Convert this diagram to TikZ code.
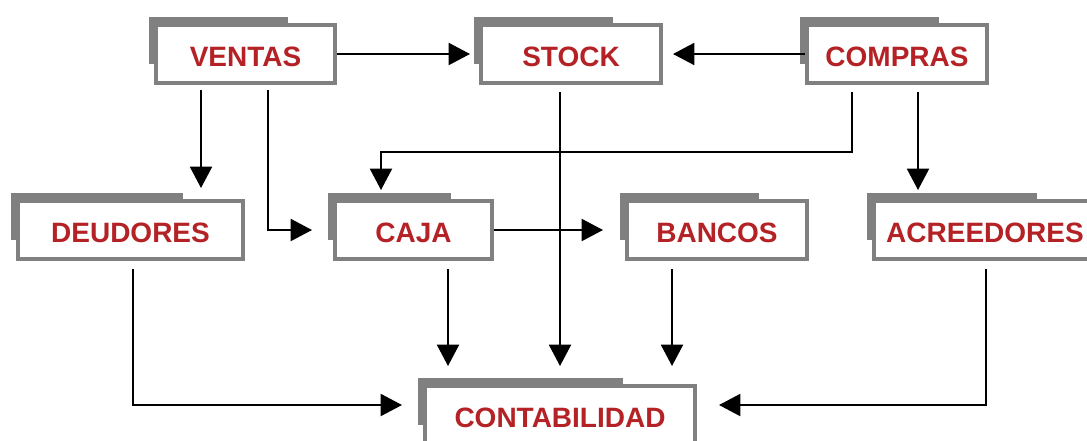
\documentclass[tikz,border=0pt]{standalone}
\usepackage{fontspec}
\setmainfont{Liberation Sans}
\usepackage{tikz}
\usetikzlibrary{arrows.meta, positioning, calc, backgrounds}
\definecolor{tabgray}{RGB}{128,128,128}
\definecolor{textred}{RGB}{180,34,38}

\begin{document}
\begin{tikzpicture}[
    x=0.75pt, y=-0.75pt,
    font=\bfseries\fontsize{21}{24}\selectfont,
    cbox/.style={rectangle, draw=tabgray, line width=3pt, fill=white,
                 text=textred, align=center, minimum height=43.5pt,
                 text height=18pt, text depth=0pt},
    a/.style={-{Triangle[length=16pt, width=16.5pt]}, line width=1.5pt},
]

\clip (0,0) rectangle (1087,440);

%% ─── nodes ───────────────────────────────────────────────────
\node[cbox, minimum width=134.25pt] (ventas)   at (245.5, 54) {VENTAS};
\node[cbox, minimum width=135pt]    (stock)    at (571,   54) {STOCK};
\node[cbox, minimum width=135pt]    (compras)  at (897,   54) {COMPRAS};

\node[cbox, minimum width=168.75pt] (deudores)   at (130.5, 230) {DEUDORES};
\node[cbox, minimum width=117.75pt] (caja)       at (413.5, 230) {CAJA};
\node[cbox, minimum width=135pt]    (bancos)     at (717,   230) {BANCOS};
\node[cbox, minimum width=166.5pt]  (acreedores) at (985,   230) {ACREEDORES};

\node[cbox, minimum width=202.5pt]  (contabilidad) at (560, 415) {CONTABILIDAD};

%% ─── folder tabs behind the boxes ────────────────────────────
\begin{scope}[on background layer]
  \foreach \n in {ventas, stock, compras, deudores, caja, bancos,
                  acreedores, contabilidad}
    \fill[tabgray] ($(\n.north west)+(-5,-6)$)
        rectangle ($(\n.north west)!0.73!(\n.north east)+(0,41)$);
\end{scope}

%% ─── arrows ──────────────────────────────────────────────────

% top row → stock
\draw[a, shorten >=6.75pt] (ventas.east) -- (stock.west);
\draw[a, shorten >=7.5pt] (compras.west) -- (stock.east);

% ventas → deudores, caja
\draw[a, shorten >=8.25pt] ($(ventas.south west)+(47,5)$) coordinate (v1)
    -- (v1 |- deudores.north);
\draw[a, shorten >=15.75pt] ($(ventas.south west)+(114,5)$) |- (caja.west);

% stock → contabilidad (straight down)
\draw[a, shorten >=13.5pt] ($(stock.south)+(-11,7)$) -- (contabilidad.north);

% compras → caja (down, left, down) and compras → acreedores
\draw[a, shorten >=6.75pt] ($(compras.south west)+(47,7)$) -- ++(0,60)
    -| ($(caja.north)+(-32.5,0)$);
\draw[a, shorten >=6.75pt] ($(compras.south west)+(113,7)$) coordinate (c1)
    -- (c1 |- acreedores.north);

% caja → bancos
\draw[a, shorten >=16.5pt] (caja.east) -- (bancos.west);

% middle row → contabilidad
\draw[a, shorten >=15.75pt] ($(deudores.south)+(2.5,8)$)
    |- ($(contabilidad.west)+(0,-10)$);
\draw[a, shorten >=16.5pt] ($(acreedores.south)+(1,8)$)
    |- ($(contabilidad.east)+(0,-10)$);
\draw[a, shorten >=13.5pt] ($(caja.south)+(34.5,8)$) coordinate (k1)
    -- (k1 |- contabilidad.north);
\draw[a, shorten >=13.5pt] ($(bancos.south west)+(47,8)$) coordinate (b1)
    -- (b1 |- contabilidad.north);

\end{tikzpicture}
\end{document}
